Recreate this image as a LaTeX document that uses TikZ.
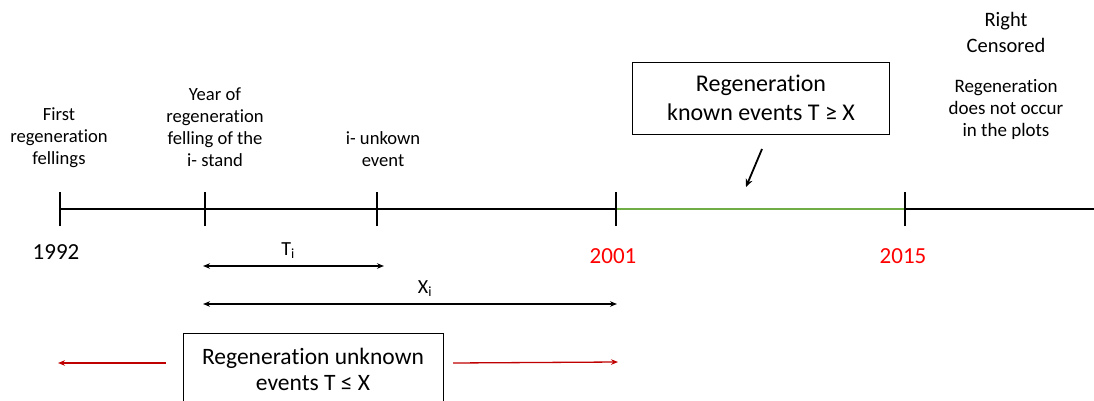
\documentclass[tikz,border=0pt]{standalone}
\usepackage{fontspec}
\setmainfont[RawFeature={-liga;-clig;-calt;-dlig}]{Carlito}
\usetikzlibrary{arrows.meta}
\definecolor{myred}{RGB}{255,0,0}
\definecolor{arrred}{RGB}{192,0,0}
\definecolor{mygreen}{RGB}{112,173,71}
\begin{document}
\begin{tikzpicture}[x=1pt,y=-1pt,
  lbl/.style={align=center,inner sep=0pt,font=\fontsize{18.6}{22}\selectfont},
  yr/.style={inner sep=0pt,font=\fontsize{23}{26}\selectfont},
  tick/.style={line width=1.4pt},
  axis/.style={line width=1.4pt},
  dim/.style={line width=1.3pt,{Stealth[length=7pt,width=5.5pt]}-{Stealth[length=7pt,width=5.5pt]}},
  rarr/.style={line width=1.3pt,arrred,-{Stealth[length=7pt,width=5.5pt]}},
  box/.style={draw,line width=0.8pt,align=center,inner sep=0pt}
]
\useasboundingbox (0,0) rectangle (1094,401);
% timeline coordinates
\coordinate (t1) at (60,209);
\coordinate (t2) at (205,209);
\coordinate (t3) at (377,209);
\coordinate (t4) at (616,209);
\coordinate (t5) at (905,209);
\coordinate (tend) at (1094,209);
\draw[axis] (t1) -- (t4);
\draw[axis] (t5) -- (tend);
\draw[line width=2pt,mygreen] (t4) -- (t5);
\foreach \c in {t1,t2,t3,t4,t5}
  \draw[tick] ([yshift=-17pt]\c) -- ([yshift=17pt]\c);
% year labels
\node[yr] (y1992) at (56,252) {1992};
\node[yr,text=myred] (y2001) at (613,256) {2001};
\node[yr,text=myred] (y2015) at (903,256) {2015};
% top labels
\node[lbl] (first) at (59,138) {First\\regeneration\\fellings};
\node[lbl] (year) at (215,127) {Year of\\regeneration\\felling of the\\i- stand};
\node[lbl] (unk) at (383,149) {i- unkown\\event};
\node[lbl,font=\fontsize{20.5}{26}\selectfont] (rc) at (1006,32) {Right\\Censored};
\node[lbl,font=\fontsize{19}{22}\selectfont] (rdno) at (1006,109) {Regeneration\\does not occur\\in the plots};
% known box
\node[box,minimum width=257pt,minimum height=72pt,font=\fontsize{24}{29}\selectfont] (known) at (761,98) {Regeneration\\known events T ≥ X};
\coordinate (ka) at (762,149);
\coordinate (kb) at (746,187);
\draw[line width=1.8pt,-{Stealth[length=8pt,width=7pt]}] (ka) -- (kb);
% Ti and Xi
\coordinate (ti1) at (203,266);
\coordinate (ti2) at (384,266);
\draw[dim] (ti1) -- (ti2);
\node[lbl,font=\fontsize{20}{22}\selectfont] (tlab) at (288,251) {T\textsubscript{i}};
\coordinate (xi1) at (203,304);
\coordinate (xi2) at (617,304);
\draw[dim] (xi1) -- (xi2);
\node[lbl,font=\fontsize{20}{22}\selectfont] (xlab) at (425,289) {X\textsubscript{i}};
% unknown box
\node[box,minimum width=260pt,minimum height=72pt,font=\fontsize{23.5}{26}\selectfont] (unknown) at (313,369) {Regeneration unknown\\events T ≤ X};
\coordinate (ra1) at (166,363);
\coordinate (ra2) at (58,363);
\coordinate (rb1) at (453,363);
\coordinate (rb2) at (618,362);
\draw[rarr] (ra1) -- (ra2);
\draw[rarr] (rb1) -- (rb2);
\end{tikzpicture}
\end{document}
